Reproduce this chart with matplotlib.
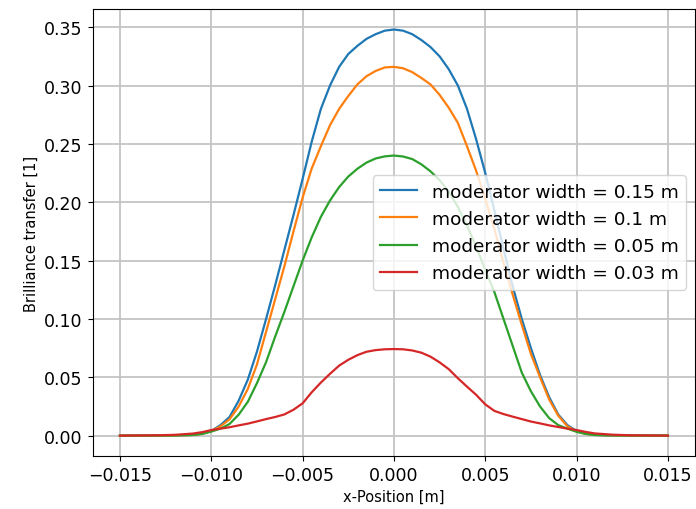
"""
Brilliance transfer vs. x-position for several moderator widths.
"""

import matplotlib
matplotlib.use('Agg')
import matplotlib.pyplot as plt

# x positions [m]
x_pos = [-0.015, -0.013, -0.012, -0.011,
         -0.0105, -0.010, -0.0095, -0.009, -0.0085, -0.008, -0.0075, -0.007,
         -0.0065, -0.006, -0.0055, -0.005, -0.0045, -0.004, -0.0035, -0.003,
         -0.0025, -0.002, -0.0015, -0.001, -0.0005, 0.0,
         0.0005, 0.001, 0.0015, 0.002, 0.0025, 0.003, 0.0035, 0.004,
         0.0045, 0.005, 0.0055, 0.006, 0.0065, 0.007, 0.0075, 0.008,
         0.0085, 0.009, 0.0095, 0.010, 0.0105,
         0.011, 0.012, 0.013, 0.015]

# brilliance transfer, moderator width = 0.15 m
bt_015 = [0.0, 0.0001, 0.0002, 0.0006,
          0.0018, 0.004, 0.009, 0.016, 0.030, 0.048, 0.072, 0.100,
          0.129, 0.159, 0.189, 0.220, 0.252, 0.280, 0.300, 0.316,
          0.327, 0.334, 0.340, 0.344, 0.347, 0.348,
          0.347, 0.344, 0.339, 0.333, 0.325, 0.314, 0.300, 0.280,
          0.254, 0.225, 0.193, 0.160, 0.128, 0.100, 0.075, 0.052,
          0.033, 0.018, 0.009, 0.004, 0.0018,
          0.0006, 0.0002, 0.0001, 0.0]

# moderator width = 0.1 m
bt_010 = [0.0, 0.0001, 0.0002, 0.0006,
          0.0016, 0.0038, 0.008, 0.014, 0.025, 0.040, 0.061, 0.089,
          0.117, 0.145, 0.175, 0.204, 0.229, 0.248, 0.266, 0.280,
          0.291, 0.301, 0.308, 0.3125, 0.3155, 0.316,
          0.3148, 0.3115, 0.3065, 0.301, 0.292, 0.281, 0.268, 0.248,
          0.227, 0.203, 0.177, 0.148, 0.121, 0.095, 0.070, 0.050,
          0.031, 0.017, 0.008, 0.0036, 0.0015,
          0.0006, 0.0002, 0.0001, 0.0]

# moderator width = 0.05 m
bt_005 = [0.0, 0.0001, 0.0002, 0.0006,
          0.0015, 0.0035, 0.006, 0.010, 0.018, 0.029, 0.045, 0.063,
          0.085, 0.106, 0.128, 0.150, 0.170, 0.1875, 0.2015, 0.213,
          0.222, 0.2287, 0.2340, 0.2375, 0.2393, 0.240,
          0.2392, 0.237, 0.2325, 0.2265, 0.219, 0.209, 0.196, 0.180,
          0.162, 0.142, 0.123, 0.100, 0.077, 0.054, 0.038, 0.025,
          0.015, 0.009, 0.006, 0.0033, 0.0015,
          0.0006, 0.0002, 0.0001, 0.0]

# moderator width = 0.03 m
bt_003 = [0.0, 0.0003, 0.0007, 0.0018,
          0.0030, 0.0048, 0.0060, 0.0072, 0.0088, 0.0103, 0.0122, 0.0142,
          0.0160, 0.0182, 0.0222, 0.0277, 0.0372, 0.0455, 0.0530, 0.0600,
          0.0650, 0.0690, 0.0719, 0.0733, 0.0740, 0.0742,
          0.0740, 0.0730, 0.0711, 0.0677, 0.0628, 0.0570, 0.0492, 0.0420,
          0.0350, 0.0268, 0.0212, 0.0185, 0.0163, 0.0142, 0.0121, 0.0105,
          0.0088, 0.0074, 0.0060, 0.0048, 0.0032,
          0.0019, 0.0008, 0.0003, 0.0]

labels = ['moderator width = 0.15 m', 'moderator width = 0.1 m',
          'moderator width = 0.05 m', 'moderator width = 0.03 m']
colors = ['#1f77b4', '#ff7f0e', '#2ca02c', '#d62728']

fig = plt.figure(figsize=(6.96, 5.10), dpi=100)
ax = fig.add_axes([0.133, 0.104, 0.866, 0.876])

for ys, lab, col in zip([bt_015, bt_010, bt_005, bt_003], labels, colors):
    ax.plot(x_pos, ys, color=col, linewidth=1.6, label=lab)

ax.set_xticks([-0.015, -0.010, -0.005, 0.0, 0.005, 0.010, 0.015])
ax.set_yticks([0.0, 0.05, 0.10, 0.15, 0.20, 0.25, 0.30, 0.35])
ax.tick_params(labelsize=12.5)
ax.set_xlabel('x-Position [m]', fontsize=10.5)
ax.set_ylabel('Brilliance transfer [1]', fontsize=10.5)
ax.grid(True, color='#c4c4c4', linewidth=1.3)
ax.legend(loc='center right', fontsize=13.3)

fig.savefig('out.png', dpi=100)
